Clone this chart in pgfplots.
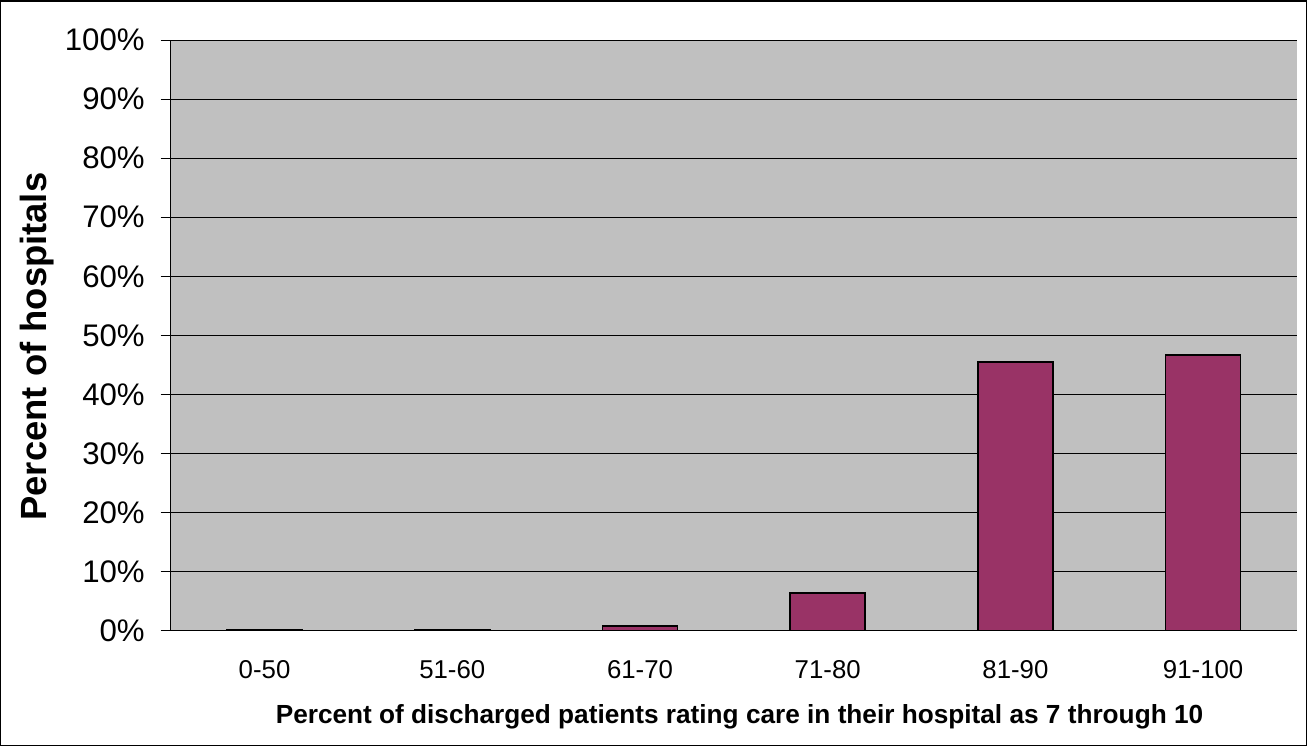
\documentclass[border=0pt]{standalone}
\usepackage{pgfplots}
\pgfplotsset{compat=1.18}
\usepackage{fontspec}
\setmainfont{Liberation Sans}
\definecolor{plotgray}{HTML}{C0C0C0}
\definecolor{barplum}{HTML}{993366}
\begin{document}
\begin{tikzpicture}
\useasboundingbox (-85.35pt,-57.65pt) rectangle (568.15pt,315.35pt);
\draw[black, line width=0.6pt] (-84.9pt,-57.2pt) rectangle (567.7pt,314.9pt);
\begin{axis}[
    at={(0,0)}, anchor=south west,
    scale only axis,
    width=563.15pt, height=295.35pt,
    xmin=-0.5, xmax=5.5,
    ymin=0, ymax=100,
    axis background/.style={fill=plotgray},
    axis lines=left,
    axis line style={-, black, line width=0.6pt},
    ytick={0,10,...,100},
    yticklabels={0\%,10\%,20\%,30\%,40\%,50\%,60\%,70\%,80\%,90\%,100\%},
    xtick={0,1,2,3,4,5},
    xticklabels={0-50,51-60,61-70,71-80,81-90,91-100},
    major x tick style={draw=none},
    extra x ticks={-0.5,0.5,1.5,2.5,3.5,4.5,5.5},
    extra x tick labels={},
    extra x tick style={major tick length=5pt, tick style={black, line width=0.5pt}, grid=none},
    tick align=outside,
    major tick length=5pt,
    tick style={black, line width=0.5pt},
    ymajorgrids=true,
    grid style={black, line width=0.5pt},
    yticklabel style={anchor=east, inner sep=0pt, font=\fontsize{15.6}{18}\selectfont},
    yticklabel shift=7.8pt,
    xticklabel style={anchor=base, inner sep=0pt, font=\fontsize{12.9}{15}\selectfont},
    xticklabel shift=19pt,
    xlabel={Percent of discharged patients rating care in their hospital as 7 through 10},
    ylabel={Percent of hospitals},
    xlabel style={at={(axis description cs:0.505,-0.1568)}, anchor=base, font=\fontsize{13.1}{15}\selectfont\bfseries},
    ylabel style={at={(axis description cs:-0.1187,0.481)}, anchor=center, rotate=0, font=\fontsize{18.2}{21}\selectfont\bfseries},
    ybar, bar width=37.5pt, bar shift=0pt,
    clip=false,
]
\addplot[fill=barplum, draw=black, line width=0.75pt]
    coordinates {(0,0.2) (1,0.2) (2,0.8) (3,6.4) (4,45.5) (5,46.7)};
\end{axis}
\end{tikzpicture}
\end{document}
